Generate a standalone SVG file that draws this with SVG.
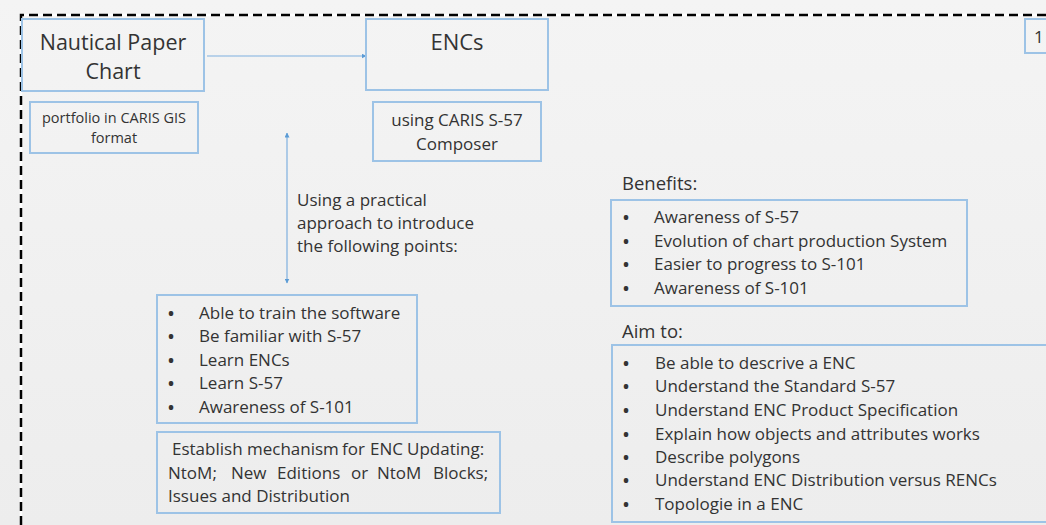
<svg xmlns="http://www.w3.org/2000/svg" width="1046" height="525" viewBox="0 0 1046 525">
<defs>
<linearGradient id="bg" x1="0" y1="0" x2="0" y2="1">
<stop offset="0" stop-color="#f4f4f4"/>
<stop offset="1" stop-color="#ededed"/>
</linearGradient>
<marker id="ah" viewBox="0 0 10 10" refX="9" refY="5" markerWidth="5" markerHeight="5" orient="auto-start-reverse" markerUnits="userSpaceOnUse">
<path d="M0,0 L10,5 L0,10 z" fill="#5b9bd5"/>
</marker>
<style>
.box{fill:none;stroke:#9dc3e6;stroke-width:2}
.t{font-family:"Open Sans","Liberation Sans",sans-serif;fill:#333333}
.b{font-size:17px}
.d{font-size:16px;font-weight:bold}
.conn{stroke:#7fb0e0;stroke-width:1.2;fill:none}
</style>
</defs>
<rect width="1046" height="525" fill="url(#bg)"/>
<path d="M21,525 V15 H1046" fill="none" stroke="#ffffff" stroke-width="2.5"/>
<path d="M21,525 V15 H1046" fill="none" stroke="#000" stroke-width="2.5" stroke-dasharray="9,5"/>

<g id="connectors">
<line class="conn" x1="207" y1="56" x2="366" y2="56" marker-end="url(#ah)"/>
<line class="conn" x1="287" y1="133" x2="287" y2="283" marker-start="url(#ah)" marker-end="url(#ah)"/>
</g>

<g id="nautical">
<rect class="box" x="22" y="19" width="182" height="72"/>
<text class="t" x="113" y="50" font-size="21.5" text-anchor="middle">Nautical Paper</text>
<text class="t" x="113" y="79" font-size="21.5" text-anchor="middle">Chart</text>
</g>
<g id="portfolio">
<rect class="box" x="30" y="102" width="168" height="51"/>
<text class="t" x="114" y="123" font-size="14.5" text-anchor="middle">portfolio in CARIS GIS</text>
<text class="t" x="114" y="143" font-size="14.5" text-anchor="middle">format</text>
</g>
<g id="encs">
<rect class="box" x="366" y="19" width="182" height="71"/>
<text class="t" x="457" y="50" font-size="22" text-anchor="middle">ENCs</text>
</g>
<g id="composer">
<rect class="box" x="373" y="102" width="168" height="59"/>
<text class="t b" x="457" y="126" text-anchor="middle">using CARIS S-57</text>
<text class="t b" x="457" y="150" text-anchor="middle">Composer</text>
</g>
<g id="page-num">
<rect class="box" x="1025" y="19" width="30" height="34"/>
<text class="t" x="1034" y="43" font-size="17">1</text>
</g>

<g id="practical-label">
<text class="t b" x="297" y="206">Using a practical</text>
<text class="t b" x="297" y="229">approach to introduce</text>
<text class="t b" x="297" y="252">the following points:</text>
</g>

<g id="points">
<rect class="box" x="157" y="295" width="260" height="128"/>
<g class="t b">
<text class="d" x="168" y="319">•</text><text x="199" y="319">Able to train the software</text>
<text class="d" x="168" y="342">•</text><text x="199" y="342">Be familiar with S-57</text>
<text class="d" x="168" y="366">•</text><text x="199" y="366">Learn ENCs</text>
<text class="d" x="168" y="389">•</text><text x="199" y="389">Learn S-57</text>
<text class="d" x="168" y="413">•</text><text x="199" y="413">Awareness of S-101</text>
</g>
</g>

<g id="updating">
<rect class="box" x="157" y="432" width="343" height="81"/>
<g class="t b">
<text y="455"><tspan x="172">Establish</tspan> <tspan x="247">mechanism</tspan> <tspan x="342">for</tspan> <tspan x="370">ENC</tspan> <tspan x="407">Updating:</tspan></text>
<text y="479"><tspan x="168">NtoM;</tspan> <tspan x="231">New</tspan> <tspan x="277">Editions</tspan> <tspan x="351">or</tspan> <tspan x="377">NtoM</tspan> <tspan x="433">Blocks;</tspan></text>
<text x="168" y="502">Issues and Distribution</text>
</g>
</g>

<g id="benefits">
<text class="t" x="622" y="190" font-size="18.5">Benefits:</text>
<rect class="box" x="611" y="200" width="356" height="106"/>
<g class="t b">
<text class="d" x="623" y="223">•</text><text x="654" y="223">Awareness of S-57</text>
<text class="d" x="623" y="247">•</text><text x="654" y="247">Evolution of chart production System</text>
<text class="d" x="623" y="270">•</text><text x="654" y="270">Easier to progress to S-101</text>
<text class="d" x="623" y="294">•</text><text x="654" y="294">Awareness of S-101</text>
</g>
</g>

<g id="aim">
<text class="t" x="622" y="338" font-size="18.5">Aim to:</text>
<rect class="box" x="612" y="345" width="450" height="177"/>
<g class="t b">
<text class="d" x="623" y="369">•</text><text x="655" y="369">Be able to descrive a ENC</text>
<text class="d" x="623" y="392">•</text><text x="655" y="392">Understand the Standard S-57</text>
<text class="d" x="623" y="416">•</text><text x="655" y="416">Understand ENC Product Specification</text>
<text class="d" x="623" y="440">•</text><text x="655" y="440">Explain how objects and attributes works</text>
<text class="d" x="623" y="463">•</text><text x="655" y="463">Describe polygons</text>
<text class="d" x="623" y="486">•</text><text x="655" y="486">Understand ENC Distribution versus RENCs</text>
<text class="d" x="623" y="510">•</text><text x="655" y="510">Topologie in a ENC</text>
</g>
</g>
</svg>
